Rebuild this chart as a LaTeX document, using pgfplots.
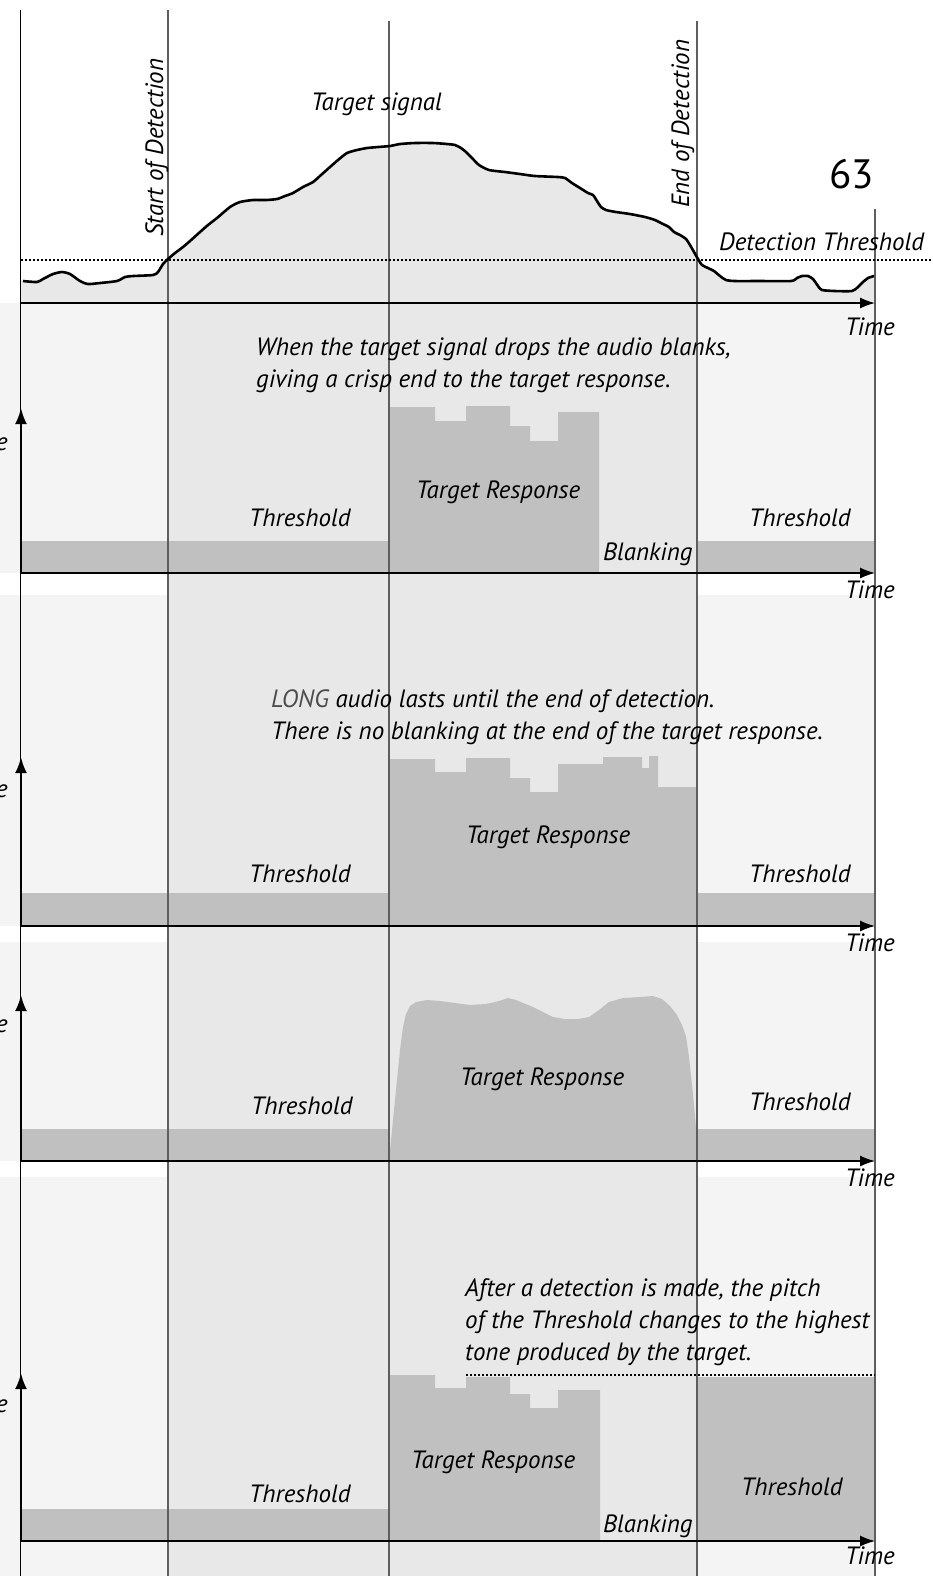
\documentclass[border=0pt]{standalone}
\usepackage{fontspec}
\setmainfont{PT Sans}
\usepackage{pgfplots}
\pgfplotsset{compat=1.18}
\usetikzlibrary{arrows.meta}
\definecolor{bgl}{HTML}{F4F4F4}
\definecolor{bgm}{HTML}{E8E8E8}
\definecolor{bar}{HTML}{C0C0C0}
\definecolor{rule}{HTML}{5E5E5E}
\newcommand\lbl{\fontsize{25}{32}\selectfont\itshape}
\tikzset{lbl/.style={font=\lbl,inner sep=0pt,anchor=base west}}

\begin{document}
\begin{tikzpicture}
\begin{axis}[
    x=1pt,y=1pt,
    xmin=0,xmax=932,ymin=0,ymax=1576,
    y dir=reverse,
    hide axis,
    clip=false,
    anchor=north west,at={(0,0)},
    every axis plot/.append style={mark=none,forget plot}]

  % panel backgrounds
  \addplot[fill=bgl,draw=none] coordinates {(0,303) (875,303) (875,573) (0,573)};
  \addplot[fill=bgl,draw=none] coordinates {(0,595) (875,595) (875,926) (0,926)};
  \addplot[fill=bgl,draw=none] coordinates {(0,942) (875,942) (875,1161) (0,1161)};
  \addplot[fill=bgl,draw=none] coordinates {(0,1177) (875,1177) (875,1576) (0,1576)};
  % detection period column
  \addplot[fill=bgm,draw=none] coordinates {(168,303) (697,303) (697,1576) (168,1576)};

  % target signal, fill under the curve
  \addplot[fill=bgm,draw=none,smooth,tension=0.4] coordinates {
    (21,303) (21,281) (23,281) (37,282) (43,279) (53,274) (62,272) (70,274) (80,281)
    (88,284) (100,283) (117,281) (125,277) (133,276) (153,275) (158,272)
    (163,264) (168,259) (175,253) (183,247) (190,241) (200,232) (208,225)
    (217,218) (230,207) (240,202) (253,200) (266,200) (277,199) (285,196)
    (293,193) (303,187) (313,182) (321,175) (330,167) (338,160) (347,153)
    (357,150) (367,148) (378,147) (390,146) (400,144) (415,143) (433,143)
    (447,144) (455,145) (461,148) (466,152) (472,158) (479,165) (489,170)
    (505,172) (520,174) (535,176) (558,177) (565,178) (572,183) (580,188)
    (588,193) (593,195) (597,201) (601,207) (606,210) (616,212) (630,214)
    (645,217) (655,220) (663,224) (669,227) (674,232) (680,235) (686,239)
    (690,245) (694,252) (698,259) (702,265) (708,268) (714,271) (720,276)
    (726,280) (735,281) (760,281) (791,281) (797,278) (802,276) (808,276)
    (813,279) (818,286) (822,290) (835,291) (852,291) (858,287) (863,282)
    (868,278) (874,276) (875,276) (875,303)};

  % panel 1: standard response with blanking
  \addplot[fill=bar,draw=none] coordinates {(21,541) (389,541) (389,573) (21,573)};
  \addplot[fill=bar,draw=none] coordinates {(697,541) (875,541) (875,573) (697,573)};
  \addplot[fill=bar,draw=none] coordinates {
    (389,573) (389,407) (435,407) (435,421) (466,421) (466,406) (510,406)
    (510,426) (530,426) (530,441) (558,441) (558,412) (599,412) (599,573)};

  % panel 2: LONG audio
  \addplot[fill=bar,draw=none] coordinates {(21,893) (389,893) (389,926) (21,926)};
  \addplot[fill=bar,draw=none] coordinates {(697,893) (875,893) (875,926) (697,926)};
  \addplot[fill=bar,draw=none] coordinates {
    (389,926) (389,759) (435,759) (435,772) (466,772) (466,758) (510,758)
    (510,778) (530,778) (530,792) (558,792) (558,764) (603,764) (603,757)
    (642,757) (642,768) (649,768) (649,756) (658,756) (658,787) (697,787)
    (697,926)};

  % panel 3: smooth response
  \addplot[fill=bar,draw=none] coordinates {(21,1129) (389,1129) (389,1161) (21,1161)};
  \addplot[fill=bar,draw=none] coordinates {(697,1129) (875,1129) (875,1161) (697,1161)};
  \addplot[fill=bar,draw=none] coordinates {
    (389,1161) (392,1130) (396,1090) (400,1050) (403,1027) (406,1014)
    (410,1006) (416,1002) (427,1000) (440,1001) (455,1003) (470,1005)
    (486,1004) (499,1001) (508,998) (516,1000) (533,1007) (553,1017)
    (565,1019) (578,1019) (589,1017) (599,1010) (609,1002) (623,998)
    (640,997) (653,996) (662,999) (670,1006) (677,1015) (682,1025)
    (686,1036) (689,1057) (692,1085) (694,1105) (696,1128) (697,1161)};

  % panel 4: threshold pitch follows the target
  \addplot[fill=bar,draw=none] coordinates {(21,1509) (389,1509) (389,1541) (21,1541)};
  \addplot[fill=bar,draw=none] coordinates {(697,1377) (875,1377) (875,1541) (697,1541)};
  \addplot[fill=bar,draw=none] coordinates {
    (389,1541) (389,1375) (435,1375) (435,1388) (466,1388) (466,1377) (510,1377)
    (510,1394) (530,1394) (530,1408) (558,1408) (558,1390) (600,1390) (600,1541)};

  % time markers
  \addplot[black,line width=1pt] coordinates {(21,10) (21,1576)};
  \addplot[rule,line width=1.3pt] coordinates {(168,10) (168,1576)};
  \addplot[rule,line width=1.3pt] coordinates {(389,21) (389,1576)};
  \addplot[rule,line width=1.3pt] coordinates {(697,21) (697,1576)};
  \addplot[rule,line width=1.3pt] coordinates {(875,209) (875,1576)};

  % dotted levels
  \addplot[black,line width=2pt,dash pattern=on 2pt off 2pt] coordinates {(21,260) (932,260)};
  \addplot[black,line width=2pt,dash pattern=on 2pt off 2pt] coordinates {(466,1375) (875,1375)};

  % target signal curve
  \addplot[black,line width=2.6pt,smooth,tension=0.4] coordinates {
    (23,281) (37,282) (43,279) (53,274) (62,272) (70,274) (80,281)
    (88,284) (100,283) (117,281) (125,277) (133,276) (153,275) (158,272)
    (163,264) (168,259) (175,253) (183,247) (190,241) (200,232) (208,225)
    (217,218) (230,207) (240,202) (253,200) (266,200) (277,199) (285,196)
    (293,193) (303,187) (313,182) (321,175) (330,167) (338,160) (347,153)
    (357,150) (367,148) (378,147) (390,146) (400,144) (415,143) (433,143)
    (447,144) (455,145) (461,148) (466,152) (472,158) (479,165) (489,170)
    (505,172) (520,174) (535,176) (558,177) (565,178) (572,183) (580,188)
    (588,193) (593,195) (597,201) (601,207) (606,210) (616,212) (630,214)
    (645,217) (655,220) (663,224) (669,227) (674,232) (680,235) (686,239)
    (690,245) (694,252) (698,259) (702,265) (708,268) (714,271) (720,276)
    (726,280) (735,281) (760,281) (791,281) (797,278) (802,276) (808,276)
    (813,279) (818,286) (822,290) (835,291) (852,291) (858,287) (863,282)
    (868,278) (874,276)};

  % time axes
  \addplot[black,line width=1.3pt,-{Latex[length=15pt,width=11pt]}] coordinates {(21,303) (875,303)};
  \addplot[black,line width=1.3pt,-{Latex[length=15pt,width=11pt]}] coordinates {(21,573) (875,573)};
  \addplot[black,line width=1.3pt,-{Latex[length=15pt,width=11pt]}] coordinates {(21,926) (875,926)};
  \addplot[black,line width=1.3pt,-{Latex[length=15pt,width=11pt]}] coordinates {(21,1161) (875,1161)};
  \addplot[black,line width=1.3pt,-{Latex[length=15pt,width=11pt]}] coordinates {(21,1541) (875,1541)};
  % level axes
  \addplot[black,line width=2.4pt,-{Latex[length=16pt,width=12pt]}] coordinates {(21,574) (21,408)};
  \addplot[black,line width=2.4pt,-{Latex[length=16pt,width=12pt]}] coordinates {(21,927) (21,757)};
  \addplot[black,line width=2.4pt,-{Latex[length=16pt,width=12pt]}] coordinates {(21,1162) (21,995)};
  \addplot[black,line width=2.4pt,-{Latex[length=16pt,width=12pt]}] coordinates {(21,1542) (21,1373)};

  % top panel texts
  \node[lbl,rotate=90] at (axis cs:163,237) {Start of Detection};
  \node[lbl,rotate=90] at (axis cs:689,208) {End of Detection};
  \node[lbl] at (axis cs:311,110) {Target signal};
  \node[lbl] at (axis cs:719,250) {Detection Threshold};
  \node[font=\fontsize{41}{44}\selectfont,inner sep=0pt,anchor=base west] at (axis cs:829,188) {63};

  % axis labels
  \node[lbl] at (axis cs:845,335) {Time};
  \node[lbl] at (axis cs:845,598) {Time};
  \node[lbl] at (axis cs:845,951) {Time};
  \node[lbl] at (axis cs:845,1186) {Time};
  \node[lbl] at (axis cs:845,1564) {Time};
  \node[lbl,anchor=base east] at (axis cs:8,450) {Volume};
  \node[lbl,anchor=base east] at (axis cs:8,797) {Volume};
  \node[lbl,anchor=base east] at (axis cs:8,1032) {Volume};
  \node[lbl,anchor=base east] at (axis cs:8,1412) {Volume};

  % panel 1 texts (multi-line nodes are anchored at their last baseline)
  \node[lbl,align=left] at (axis cs:256,387)
    {When the target signal drops the audio blanks,\\giving a crisp end to the target response.};
  \node[lbl] at (axis cs:249,526) {Threshold};
  \node[lbl] at (axis cs:749,526) {Threshold};
  \node[lbl] at (axis cs:416,498) {Target Response};
  \node[lbl] at (axis cs:603,560) {Blanking};

  % panel 2 texts
  \node[lbl,align=left] at (axis cs:271,739)
    {\textcolor{black!70}{LONG} audio lasts until the end of detection.\\There is no blanking at the end of the target response.};
  \node[lbl] at (axis cs:249,882) {Threshold};
  \node[lbl] at (axis cs:749,882) {Threshold};
  \node[lbl] at (axis cs:466,843) {Target Response};

  % panel 3 texts
  \node[lbl] at (axis cs:251,1114) {Threshold};
  \node[lbl] at (axis cs:749,1110) {Threshold};
  \node[lbl] at (axis cs:460,1085) {Target Response};

  % panel 4 texts
  \node[lbl,align=left] at (axis cs:465,1360)
    {After a detection is made, the pitch\\of the Threshold changes to the highest\\tone produced by the target.};
  \node[lbl] at (axis cs:249,1502) {Threshold};
  \node[lbl] at (axis cs:741,1495) {Threshold};
  \node[lbl] at (axis cs:411,1468) {Target Response};
  \node[lbl] at (axis cs:603,1532) {Blanking};
\end{axis}
\pgfresetboundingbox
\path[use as bounding box] (0,0) rectangle (932pt,-1576pt);
\end{tikzpicture}
\end{document}
